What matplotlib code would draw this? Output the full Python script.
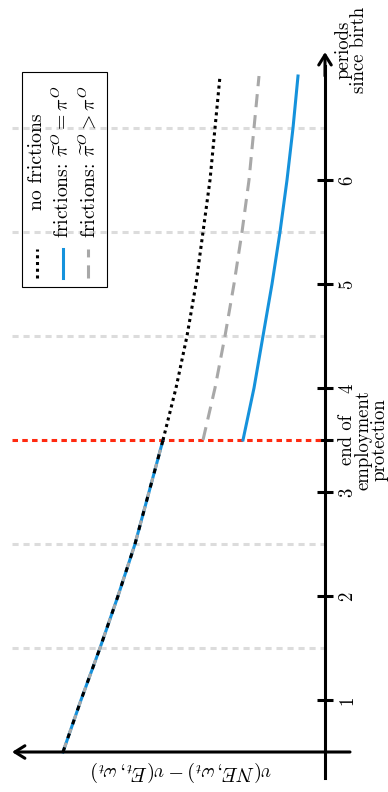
import numpy as np
import matplotlib
matplotlib.use("Agg")
import matplotlib.pyplot as plt
from matplotlib.patches import Rectangle

plt.rcParams['font.family'] = 'serif'
plt.rcParams['font.serif'] = ['cmr10']
plt.rcParams['mathtext.fontset'] = 'cm'
plt.rcParams['axes.unicode_minus'] = False
plt.rcParams['font.size'] = 13.5

# value gap over the life cycle, before and after employment protection ends
periods_pre = [0.5, 1.0, 1.5, 2.0, 2.5, 3.0, 3.5]
gap_pre = [2.62, 2.44, 2.25, 2.07, 1.90, 1.76, 1.62]

periods_post = [3.5, 4.0, 4.5, 5.0, 5.5, 6.0, 6.5, 7.0]
gap_nofric = [1.62, 1.49, 1.38, 1.29, 1.22, 1.15, 1.10, 1.05]
gap_fric_eq = [0.82, 0.71, 0.62, 0.53, 0.45, 0.38, 0.32, 0.27]
gap_fric_gt = [1.22, 1.10, 1.00, 0.91, 0.83, 0.76, 0.71, 0.66]

tick_periods = [1, 2, 3, 3.5, 4, 5, 6]
tick_labels = ['1', '2', '3', 'end of\nemployment\nprotection', '4', '5', '6']
grid_periods = [1.5, 2.5, 4.5, 5.5, 6.5]
end_protection = 3.5

legend_labels = ['no frictions',
                 r'frictions: $\widetilde{\pi}^O = \pi^O$',
                 r'frictions: $\widetilde{\pi}^O > \pi^O$']

black = 'black'
blue = '#1592dc'
gray = '#a8a8a8'
lw = 2.2

W, H = 388, 792
fig = plt.figure(figsize=(W / 100, H / 100), dpi=100)
ax = fig.add_axes([0, 0, 1, 1])
ax.patch.set_visible(False)

# periods run upwards, value gap grows to the left
ax.set_xlim(3.25, -0.63)
ax.set_ylim(0.1154, 7.731)

def fx(px):
    return px / W

def fy(py):
    return 1 - py / H

# grid at half periods and the end of protection
for p in grid_periods:
    ax.plot([3.13, 0], [p, p], color='#dcdcdc', lw=lw, ls=(0, (2.0, 1.6)),
            solid_capstyle='butt', zorder=1)
ax.plot([3.13, 0], [end_protection, end_protection], color='#ff2a10', lw=lw,
        ls=(0, (1.8, 1.4)), zorder=2)

# common path before the end of protection
ax.plot(gap_pre, periods_pre, color=blue, lw=lw, zorder=3)
ax.plot(gap_pre, periods_pre, color=gray, lw=lw, ls=(3.2, (1.6, 3.2)), zorder=4)
ax.plot(gap_pre, periods_pre, color=black, lw=lw, ls=(0, (1.6, 3.2)), zorder=5)

# paths after the end of protection
ax.plot(gap_fric_eq, periods_post, color=blue, lw=lw, zorder=3)
ax.plot(gap_fric_gt, periods_post, color=gray, lw=lw, ls=(0, (4.3, 2.6)), zorder=4)
ax.plot(gap_nofric, periods_post, color=black, lw=lw, ls=(0, (1.0, 1.2)), zorder=5)

# axes drawn as arrows
for s in ['top', 'bottom', 'left']:
    ax.spines[s].set_visible(False)
ax.spines['right'].set_position(('data', 0))
ax.spines['right'].set_bounds(0.25, 7.1)
ax.spines['right'].set_linewidth(lw)
ax.annotate('', xy=(0, 7.23), xytext=(0, 7.0),
            arrowprops=dict(arrowstyle='->,head_length=0.4,head_width=0.25',
                            lw=lw, color='black', mutation_scale=18,
                            shrinkA=0, shrinkB=0))
ax.annotate('', xy=(3.13, 0.5), xytext=(-0.25, 0.5),
            arrowprops=dict(arrowstyle='->,head_length=0.4,head_width=0.25',
                            lw=lw, color='black', mutation_scale=18,
                            shrinkA=0, shrinkB=0))

ax.set_xticks([])
ax.yaxis.tick_right()
ax.set_yticks(tick_periods)
ax.set_yticklabels(tick_labels)
ax.tick_params(axis='y', direction='inout', length=11.5, width=lw, pad=4)
for t in ax.get_yticklabels():
    t.set_rotation(90)
    t.set_va('center')
    t.set_ha('left')
    t.set_multialignment('center')
    t.set_linespacing(0.85)

ax.text(fx(351), fy(50), 'periods\nsince birth', transform=ax.transAxes,
        rotation=90, ha='center', va='center', ma='center', linespacing=0.85)
ax.text(fx(181), fy(771), r'$v(NE,\omega_t) - v(E_t,\omega_t)$',
        transform=ax.transAxes, rotation=180, ha='center', va='center',
        fontsize=14.5)

# legend box, rotated with the chart
ax.add_patch(Rectangle((fx(22), fy(287)), fx(107) - fx(22), fy(72) - fy(287),
                       transform=ax.transAxes, fill=False, ec='black', lw=0.8,
                       zorder=6))
styles = [dict(color=black, ls=(0, (1.0, 1.2))),
          dict(color=blue, ls='-'),
          dict(color=gray, ls=(0, (4.3, 2.6)))]
for k, (lab, st) in enumerate(zip(legend_labels, styles)):
    cx = fx(37 + 25.5 * k)
    ax.plot([cx, cx], [fy(278), fy(249)], transform=ax.transAxes, lw=lw,
            zorder=6, **st)
    ax.text(cx, fy(162), lab, transform=ax.transAxes, rotation=90,
            ha='center', va='center', zorder=6, fontsize=14.2)

fig.savefig('out.png', dpi=100)
